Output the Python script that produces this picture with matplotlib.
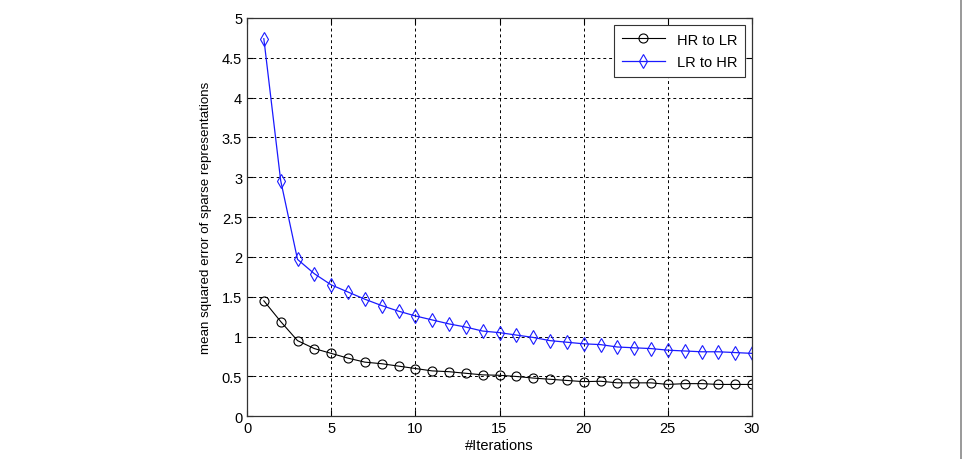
import matplotlib
matplotlib.use("Agg")
import matplotlib.pyplot as plt
from matplotlib.lines import Line2D

plt.rcParams['font.family'] = ['Liberation Sans', 'DejaVu Sans']

# Datos
iteraciones = list(range(1, 31))
hr_to_lr = [1.45, 1.19, 0.95, 0.85, 0.79, 0.73, 0.68, 0.66, 0.63, 0.60,
            0.57, 0.56, 0.54, 0.52, 0.515, 0.50, 0.48, 0.465, 0.45, 0.435,
            0.44, 0.42, 0.42, 0.42, 0.40, 0.41, 0.41, 0.40, 0.40, 0.40]
lr_to_hr = [4.74, 2.96, 1.97, 1.79, 1.65, 1.56, 1.47, 1.39, 1.32, 1.26,
            1.21, 1.16, 1.12, 1.07, 1.05, 1.02, 0.99, 0.95, 0.93, 0.91,
            0.90, 0.87, 0.86, 0.85, 0.83, 0.82, 0.81, 0.81, 0.80, 0.79]
xticks = [0, 5, 10, 15, 20, 25, 30]
yticks = [0, 0.5, 1, 1.5, 2, 2.5, 3, 3.5, 4, 4.5, 5]

fig = plt.figure(figsize=(9.66, 4.6), dpi=100)
ax = fig.add_axes([247 / 966, 42.7 / 460, 505 / 966, 398.3 / 460])

ax.plot(iteraciones, hr_to_lr, color='black', lw=0.8, marker='o',
        markersize=6.5, markerfacecolor='none', markeredgewidth=0.8, label='HR to LR')
ax.plot(iteraciones, lr_to_hr, color='#1a1aff', lw=0.9, marker='d',
        markersize=7, markerfacecolor='none', markeredgewidth=0.8, label='LR to HR')

ax.set_xlim(0, 30)
ax.set_ylim(0, 5)
ax.set_xticks(xticks)
ax.set_yticks(yticks)
ax.set_yticklabels([f"{v:g}" for v in yticks])
ax.tick_params(direction='in', top=True, right=True, length=4, width=0.8,
               labelsize=10.5, colors='black')
ax.grid(True, color='black', linestyle=(0, (3, 3)), lw=0.7)
for s in ax.spines.values():
    s.set_linewidth(0.9)
    s.set_color('#333333')

ax.set_xlabel('#Iterations', fontsize=10.5, labelpad=2)
ax.set_ylabel('mean squared error of sparse representations', fontsize=9.6, labelpad=7)

leg = ax.legend(loc='upper right', fancybox=False, edgecolor='#333333',
                fontsize=10.5, handlelength=3.0, borderaxespad=0.5,
                framealpha=1, borderpad=0.5, labelspacing=0.6)
leg.get_frame().set_linewidth(0.8)

# borde gris a la derecha
fig.add_artist(Line2D([961 / 966, 961 / 966], [0, 1], color='#888888', lw=1.2,
                      transform=fig.transFigure))

fig.savefig('out.png', dpi=100, facecolor='white')
